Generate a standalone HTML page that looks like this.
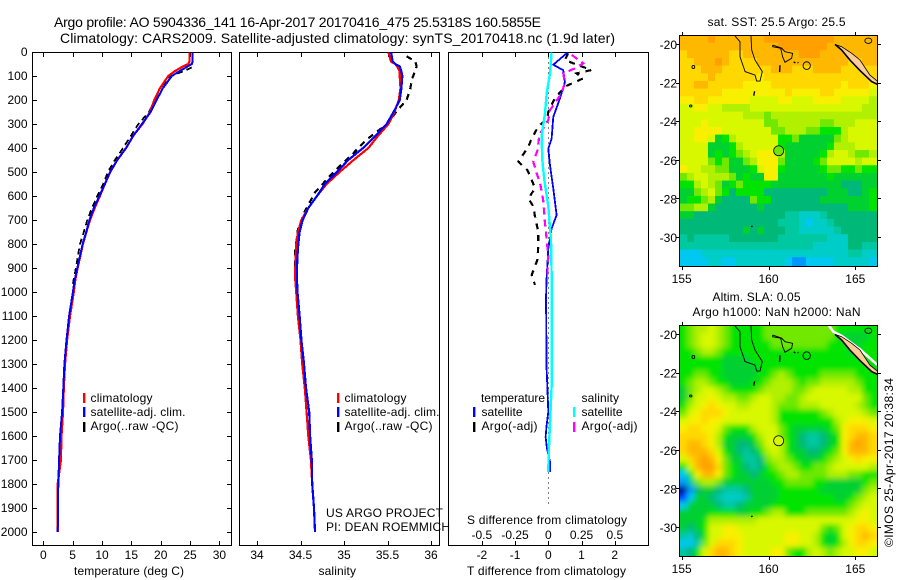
<!DOCTYPE html>
<html lang="en">
<head>
<meta charset="utf-8">
<title>Argo profile 5904336_141</title>
<style>
html,body{margin:0;padding:0;background:#fff;width:900px;height:580px;overflow:hidden}
svg{display:block}
text{font-family:"Liberation Sans",sans-serif;font-size:12px;fill:#000}
.title{font-size:14px}
.frame{fill:none;stroke:#000;stroke-width:1;shape-rendering:crispEdges}
.tick{stroke:#000;stroke-width:1;shape-rendering:crispEdges}
</style>
</head>
<body>
<svg id="chart" xmlns="http://www.w3.org/2000/svg" width="900" height="580" viewBox="0 0 900 580">
  <defs>
    <clipPath id="clip-sst"><rect x="679.5" y="35.5" width="198" height="231"/></clipPath>
    <clipPath id="clip-sla"><rect x="679.5" y="325.5" width="198" height="231"/></clipPath>
    <clipPath id="clip-p1"><rect x="32.5" y="52.5" width="199" height="493"/></clipPath>
    <clipPath id="clip-p2"><rect x="239.5" y="52.5" width="200" height="493"/></clipPath>
    <clipPath id="clip-p3"><rect x="448.5" y="52.5" width="200" height="493"/></clipPath>
    <filter id="soft" x="-5%" y="-5%" width="110%" height="110%"><feGaussianBlur stdDeviation="2.6"/></filter>
  </defs>

  <text class="title" x="54" y="27" textLength="487">Argo profile: AO 5904336_141 16-Apr-2017 20170416_475 25.5318S 160.5855E</text>
  <text class="title" x="60" y="43" textLength="555">Climatology: CARS2009. Satellite-adjusted climatology: synTS_20170418.nc (1.9d later)</text>

  <g id="map-sst"></g>
  <g id="map-sla"></g>
  <g id="panel-temp"></g>
  <g id="panel-sal"></g>
  <g id="panel-diff"></g>

  <text x="74" y="575" textLength="110">temperature (deg C)</text>
  <text x="318.5" y="575" textLength="37.5">salinity</text>
  <text x="467" y="575" textLength="159">T difference from climatology</text>
  <text x="467" y="524" textLength="160">S difference from climatology</text>

  <g>
    <rect x="83" y="393" width="2.4" height="10" fill="#ff0000"/>
    <rect x="83" y="407" width="2.4" height="10" fill="#0000ff"/>
    <rect x="83" y="422" width="2.4" height="10" fill="#000"/>
    <text x="90.5" y="402" textLength="62">climatology</text>
    <text x="90.5" y="416" textLength="95">satellite-adj. clim.</text>
    <text x="90.5" y="430" textLength="88">Argo(..raw -QC)</text>
  </g>
  <g>
    <rect x="337" y="393" width="2.4" height="10" fill="#ff0000"/>
    <rect x="337" y="407" width="2.4" height="10" fill="#0000ff"/>
    <rect x="337" y="422" width="2.4" height="10" fill="#000"/>
    <text x="344.5" y="402" textLength="62">climatology</text>
    <text x="344.5" y="416" textLength="95">satellite-adj. clim.</text>
    <text x="344.5" y="430" textLength="88">Argo(..raw -QC)</text>
  </g>
  <text x="326" y="517" textLength="117">US ARGO PROJECT</text>
  <text x="326" y="531" textLength="124">PI: DEAN ROEMMICH</text>

  <g>
    <text x="481" y="402" textLength="64">temperature</text>
    <rect x="473" y="407" width="2.4" height="10" fill="#0000ff"/>
    <rect x="473" y="422" width="2.4" height="10" fill="#000"/>
    <text x="481.5" y="416" textLength="41">satellite</text>
    <text x="481.5" y="430" textLength="56">Argo(-adj)</text>
    <text x="581.5" y="402" textLength="37.5">salinity</text>
    <rect x="573" y="407" width="2.4" height="10" fill="#00ffff"/>
    <rect x="573" y="422" width="2.4" height="10" fill="#ff00ff"/>
    <text x="581.5" y="416" textLength="41">satellite</text>
    <text x="581.5" y="430" textLength="56">Argo(-adj)</text>
  </g>

  <text x="707.5" y="26" textLength="138">sat. SST: 25.5 Argo: 25.5</text>
  <text x="712.5" y="301" textLength="88">Altim. SLA: 0.05</text>
  <text x="692.5" y="316" textLength="168">Argo h1000: NaN h2000: NaN</text>
  <text transform="translate(893,547) rotate(-90)" textLength="169">©IMOS 25-Apr-2017 20:38:34</text>
</svg>

<script>
// ---------- profile data (depth in metres) ----------
const climDepths = [0,40,50,60,80,100,150,200,250,300,350,400,450,500,550,600,650,700,750,800,850,900,950,1000,1100,1200,1300,1400,1500,1600,1700,1800,1900,2000];
const tempClim = [24.9,24.9,24.7,23.8,22.4,21.3,19.9,18.9,18.2,16.9,15.3,14.1,12.6,11.4,10.5,9.65,8.75,7.95,7.35,6.75,6.3,5.85,5.45,5.2,4.55,4.05,3.7,3.5,3.35,3.1,3.0,2.45,2.45,2.45];
const tempSat = [25.45,25.45,25.3,24.6,23.2,21.9,20.4,19.3,18.3,16.8,15.3,14.1,12.6,11.4,10.5,9.55,8.6,7.85,7.3,6.7,6.25,5.8,5.35,5.05,4.4,3.95,3.6,3.4,3.2,2.85,2.7,2.56,2.5,2.45];
const salClim = [35.51,35.54,35.59,35.61,35.64,35.64,35.65,35.63,35.58,35.51,35.39,35.28,35.11,34.95,34.8,34.69,34.59,34.51,34.47,34.45,34.445,34.44,34.44,34.45,34.47,34.5,34.52,34.55,34.57,34.59,34.62,34.635,34.655,34.667];
const salSat = [35.54,35.56,35.59,35.64,35.66,35.67,35.66,35.64,35.57,35.49,35.36,35.22,35.05,34.92,34.78,34.69,34.59,34.525,34.49,34.475,34.465,34.46,34.46,34.465,34.49,34.51,34.54,34.563,34.6,34.61,34.63,34.635,34.655,34.667];

const argoTempDepths = [64,80,100,150,200,250,300,350,400,450,500,550,600,650,700,750,800,850,900,970];
const argoTemp = [25.3,23.9,21.7,19.9,19.0,18.0,16.2,14.9,13.6,12.2,11.0,10.2,9.2,8.3,7.5,6.9,6.25,5.9,5.55,5.0];
const argoSalDepths = [18,39,60,115,157,199,254,296,365,421,504,585,664,740,824,935,970];
const argoSal = [35.72,35.82,35.835,35.78,35.76,35.72,35.59,35.51,35.26,35.11,34.87,34.667,34.55,34.47,34.44,34.44,34.45];

const diffSatSDepths = [0,89,172,255,352,450,533,644,783,922,1033,1200,1394,1547,1672,1750];
const diffSatS = [0.025,0.013,-0.012,-0.025,-0.05,-0.045,-0.03,0,0.02,0.025,0.025,0.025,0.025,0.013,0.003,0];
const diffSatTDepths = [0,53,76,125,194,270,361,403,472,569,680,736,819,944,1028,1150,1319,1389,1500,1556,1604,1653,1708,1750];
const diffSatT = [0.6,0.15,0.45,0.5,0.35,0.15,0.1,0,0.05,0.15,0.25,0.1,0,-0.05,-0.07,-0.06,-0.05,-0.03,0,-0.05,-0.08,-0.04,0.05,0.05];
const diffArgoSDepths = [12,47,68,89,130,172,242,283,346,408,457,506,547,617,714,783,853,922,950];
const diffArgoS = [0.176,0.263,0.2,0.113,0.125,0.1,0.013,0,-0.068,-0.08,-0.113,-0.087,-0.062,-0.038,-0.025,-0.012,0,-0.007,-0.007];
const diffArgoTDepths = [6,33,50,75,89,110,144,193,249,276,311,360,394,457,492,533,568,610,644,686,749,811,867,929,971];
const diffArgoT = [0.6,0.5,0.8,1.3,0.85,1.05,0.5,0.2,0,-0.03,-0.3,-0.5,-0.6,-0.9,-0.63,-0.5,-0.4,-0.6,-0.45,-0.4,-0.3,-0.3,-0.33,-0.5,-0.4];

// ---------- tick labels ----------
const depthTicks = [0,100,200,300,400,500,600,700,800,900,1000,1100,1200,1300,1400,1500,1600,1700,1800,1900,2000];
const tempTicks = [0,5,10,15,20,25,30];
const salTicks = [34,34.5,35,35.5,36];
const diffTTicks = [-2,-1,0,1,2];
const diffSTicks = [-0.5,-0.25,0,0.25,0.5];
const lonTicks = [155,160,165];
const latTicks = [-20,-22,-24,-26,-28,-30];

// ---------- map data: colour-level index per cell, north to south ----------
const mapColors = ['#000090','#0040ff','#0098ff','#00c8f0','#00ccc8','#00c8a0','#00b878','#00d030','#00e400','#70e800','#b0f000','#d8f800','#f8f000','#ffd800','#ffb800','#ffa000'];
const sstLevels = [
[14,14,14,14,15,14,14,14,14,14,14,14,15,15,15,15,15,15,15,15,15,15,14,14,14,14,14,14],
[14,14,14,14,14,14,14,14,14,14,14,14,14,14,15,15,15,15,15,15,15,14,14,14,14,14,14,14],
[13,14,14,14,14,14,14,13,13,14,14,14,14,14,14,14,14,15,15,15,14,14,14,14,14,14,14,14],
[13,13,14,14,14,15,14,13,13,13,13,14,14,14,14,14,14,14,14,14,14,14,14,14,13,13,14,14],
[13,13,13,14,14,14,13,13,13,13,13,13,13,14,14,14,13,13,13,14,14,14,14,13,13,13,13,13],
[13,13,13,13,14,13,13,13,13,13,13,12,13,13,13,13,13,13,13,13,13,13,13,13,13,13,13,13],
[13,13,14,14,13,13,13,13,13,12,12,12,12,13,13,13,13,13,13,13,13,13,13,12,13,13,13,12],
[13,13,13,13,13,13,12,12,12,12,12,12,12,12,12,13,12,12,12,12,13,13,12,12,12,12,12,11],
[12,12,13,13,12,12,12,12,12,12,11,11,11,11,12,12,11,11,11,12,12,12,12,11,11,11,11,10],
[11,11,12,12,11,11,10,10,10,10,11,11,11,11,11,11,11,11,11,11,11,11,11,11,11,11,10,10],
[11,11,11,11,11,11,11,11,11,10,10,10,9,10,10,10,10,10,10,10,10,10,10,10,10,10,10,10],
[11,11,11,12,11,11,11,11,11,11,11,11,9,9,10,10,10,10,10,10,9,9,10,10,10,11,11,11],
[11,11,12,12,12,12,11,11,11,11,11,11,11,9,9,10,10,10,9,9,8,8,8,10,11,11,11,11],
[11,11,12,12,11,7,8,10,11,11,11,11,11,11,8,8,9,7,7,7,7,7,9,10,11,11,11,11],
[11,11,11,11,7,7,7,8,10,11,11,11,11,11,8,7,7,7,7,7,7,8,10,10,10,11,11,11],
[11,11,11,11,7,8,7,8,9,10,11,12,12,12,10,7,7,7,7,7,8,10,11,11,10,9,9,10],
[11,11,11,11,9,8,9,7,7,9,10,12,12,12,9,7,7,7,7,8,9,11,11,11,11,10,11,11],
[12,11,11,10,10,9,9,7,7,7,8,11,12,12,8,7,7,7,7,7,8,9,9,8,8,9,8,8],
[9,10,11,11,10,10,10,9,7,8,7,7,12,12,7,7,7,7,7,7,7,8,7,7,7,7,7,7],
[8,8,10,11,10,9,7,8,9,8,8,8,8,7,7,7,7,7,7,7,7,7,7,6,6,6,7,7],
[7,7,9,10,11,9,8,6,8,8,8,8,6,6,6,6,6,6,6,6,6,7,7,7,6,6,7,8],
[7,8,8,9,10,7,6,6,6,6,9,8,8,6,6,6,6,6,6,6,7,7,7,7,7,7,7,8],
[9,9,10,10,7,6,6,6,6,6,6,7,6,6,6,6,6,6,6,6,6,6,6,6,7,7,7,8],
[7,7,6,6,6,6,6,6,6,6,6,6,6,6,6,5,5,4,4,4,5,6,6,6,6,6,6,6],
[6,6,6,6,6,6,6,6,6,6,6,6,6,6,5,5,5,4,3,4,4,5,6,6,6,6,6,6],
[6,6,6,6,6,6,6,6,6,7,6,7,6,6,6,5,5,4,4,4,4,4,5,6,6,6,6,6],
[5,6,5,5,5,5,5,6,6,6,6,6,6,6,5,5,5,5,5,5,5,4,4,4,6,6,6,6],
[5,5,5,5,5,5,5,5,5,5,5,5,5,5,5,5,5,5,5,4,4,4,4,4,6,6,5,5],
[3,3,3,4,4,4,4,4,4,4,4,4,4,4,4,4,4,4,4,4,4,4,4,4,5,5,4,4],
[3,3,3,3,4,4,3,3,4,4,4,4,4,4,4,3,2,2,3,3,3,3,4,4,4,4,4,3]
];
const slaLevels = [
[8,9,10,10,11,10,9,8,8,8,8,8,9,9,9,9,9,9,9,9,9,9,8,8,8,8,8,8],
[8,9,10,11,11,10,9,8,8,8,8,8,9,9,9,9,9,9,9,9,9,9,8,7,7,7,7,8],
[8,9,10,11,11,10,9,8,8,8,8,8,8,9,9,9,9,9,9,9,9,8,8,8,7,7,8,8],
[8,8,9,10,10,9,8,8,8,8,8,8,8,8,8,8,8,8,8,8,8,8,8,8,7,8,8,8],
[8,8,8,8,8,8,7,7,7,7,8,8,8,8,8,8,8,8,8,8,8,8,8,8,8,8,8,8],
[8,8,8,8,8,8,7,7,7,7,7,8,8,8,8,8,8,8,8,8,8,8,8,8,8,8,8,8],
[8,8,9,9,8,8,7,7,7,7,7,8,8,9,10,9,8,8,8,8,9,9,9,9,9,8,8,8],
[8,9,10,10,9,8,8,7,7,7,8,8,9,10,10,10,9,8,9,9,10,10,10,10,10,9,8,8],
[7,9,10,11,11,10,9,8,8,8,8,9,10,10,10,10,9,9,10,11,11,11,11,11,10,10,8,8],
[7,9,11,11,12,11,10,10,9,9,10,11,11,10,10,9,9,10,11,11,11,11,11,11,11,11,9,8],
[8,10,11,12,13,12,11,11,10,10,11,11,11,10,9,9,9,10,10,10,11,11,11,11,11,10,9,8],
[9,11,12,13,13,13,12,11,11,11,11,11,11,10,8,8,8,8,8,8,9,10,11,11,11,11,10,9],
[11,12,12,13,12,12,11,11,11,11,11,11,11,10,8,8,8,8,8,8,8,8,10,11,12,12,12,11],
[12,13,13,12,12,11,9,8,8,8,10,11,11,11,9,8,7,7,7,7,7,8,9,12,13,13,13,12],
[13,13,13,13,12,10,8,7,7,7,8,10,11,11,9,8,7,6,5,5,6,7,8,12,13,14,14,13],
[13,14,14,13,12,10,7,7,6,6,7,9,11,11,10,8,7,6,5,5,6,7,8,12,14,15,14,13],
[13,14,14,14,13,11,8,7,6,5,6,8,10,11,10,8,7,7,6,6,7,8,9,12,14,14,14,13],
[11,13,14,15,14,12,9,7,7,5,5,6,9,10,10,9,8,7,7,7,8,9,10,11,12,13,12,12],
[8,11,14,15,15,13,9,8,7,6,5,6,8,9,10,10,9,8,8,9,9,10,11,11,11,11,11,10],
[3,8,12,14,14,12,9,8,7,7,6,7,8,8,9,10,10,9,9,9,9,10,10,10,9,9,8,8],
[2,5,9,10,10,9,7,7,7,7,7,7,7,8,8,9,9,9,9,8,8,7,7,7,7,7,8,9],
[0,2,6,7,7,6,5,5,5,6,7,7,7,7,8,8,8,8,8,8,7,7,7,7,7,7,9,10],
[1,3,7,7,6,5,4,4,4,5,7,7,7,7,8,8,8,8,8,8,8,8,7,7,8,9,10,11],
[3,7,7,7,7,6,5,5,6,7,7,7,7,8,8,8,8,8,8,8,8,8,8,8,9,10,11,11],
[7,7,7,7,8,8,8,8,7,7,8,8,9,10,10,8,8,8,9,9,9,9,9,9,10,11,12,11],
[7,7,7,8,10,10,10,10,10,10,10,11,11,11,11,11,11,11,11,11,11,11,11,11,11,12,12,11],
[7,6,7,8,11,11,12,12,11,11,11,11,11,11,11,11,11,11,11,11,9,8,9,11,12,13,13,12],
[5,4,6,8,11,11,12,12,12,11,11,11,11,11,11,12,12,11,11,10,8,7,8,11,12,13,14,13],
[3,3,5,9,11,13,13,13,12,11,11,11,11,11,11,12,12,11,11,10,8,7,8,10,12,13,13,12],
[5,6,8,11,13,14,14,13,12,11,11,11,11,12,12,9,8,8,10,11,10,9,10,11,11,12,12,11]
];
const gridLon0 = 154.904, gridLonStep = 0.403, gridLat0 = -19.534, gridLatStep = 0.397;

// ---------- coast outlines (lon, lat) ----------
const reefWest = [[158.07,-19.59],[158.36,-19.88],[158.36,-20.66],[158.65,-21.43],[159.22,-21.61],[159.32,-21.92],[159.51,-21.92],[159.64,-21.43],[159.22,-20.83],[159.03,-20.31],[158.99,-19.59]];
const reefEast = [[160.24,-20.05],[160.76,-20.22],[160.95,-20.4],[161.39,-20.48],[161.33,-20.74],[160.95,-20.95],[160.81,-20.66],[160.7,-20.22],[160.24,-20.14],[160.24,-20.05]];
const newCaledonia = [[163.83,-20.02],[164.21,-20.14],[164.79,-20.48],[165.27,-20.83],[165.84,-21.61],[166.27,-21.92],[166.27,-22.09],[165.94,-21.95],[165.27,-21.38],[164.69,-20.83],[164.21,-20.31],[163.83,-20.02]];
const newCaledoniaEdge = [[163.83,-20.02],[164.21,-20.31],[164.69,-20.83],[165.27,-21.38],[165.94,-21.95],[166.27,-22.09]];
const swathEdge = [[163.45,-19.53],[163.73,-19.88],[164.21,-20.1],[165.27,-20.8],[166.27,-21.6]];
const smallReefs = [[162.2,-21.12,0.21,0.2],[155.67,-21.19,0.08,0.08],[155.52,-23.21,0.07,0.05],[165.75,-19.83,0.2,0.14]];
const islets = [[160.66,-21.1,160.64,-21.45],[159.2,-22.45,159.15,-22.68],[161.45,-20.93,161.55,-20.98],[161.68,-20.95,161.72,-20.98],[159.0,-29.47,159.08,-29.43]];
const argoPosition = [160.5855,-25.5318];

// ---------- scales ----------
const svg = document.getElementById('chart');
const NS = 'http://www.w3.org/2000/svg';
const yDepth = d => 52 + d * 0.24;
const xTemp = t => 43.3 + t * 5.87;
const xSal = s => 257 + (s - 34) * 87;
const xDiffT = t => 548.3 + t * 33.2;
const xDiffS = s => 548.3 + s * 133;
const xLon = lon => 681.7 + (lon - 155) * 17.36;
const yLatSst = lat => 44 + (-20 - lat) * 19.3;
const yLatSla = lat => 334 + (-20 - lat) * 19.3;

function make(tag, parent, props) {
  const el = document.createElementNS(NS, tag);
  for (const k in props) el.setAttribute(k, props[k]);
  parent.appendChild(el);
  return el;
}
function fmt(v) { return String(v); }

function drawSeries(parent, vals, depths, xFn, color, width, dash, name) {
  const pts = depths.map((d, i) => xFn(vals[i]).toFixed(1) + ',' + yDepth(d).toFixed(1)).join(' ');
  const el = make('polyline', parent, {points: pts, fill: 'none', stroke: color, 'stroke-width': width});
  if (dash) el.setAttribute('stroke-dasharray', dash);
  el.setAttribute('shape-rendering', 'crispEdges');
  
  
}
function drawXAxis(parent, ticks, xFn, labelY, top, name) {
  ticks.forEach(v => {
    const x = Math.round(xFn(v)) + 0.5;
    const b = make('line', parent, {class: 'tick', x1: x, x2: x, y1: 545.5, y2: 541});
    
    
    if (top) {
      const t = make('line', parent, {class: 'tick', x1: x, x2: x, y1: 52.5, y2: 57});
      
      
    }
    const l = make('text', parent, {x: xFn(v), y: labelY, 'text-anchor': 'middle'});
    l.textContent = fmt(v);
    
    
  });
}
function drawFrame(parent, x, y, w, h, name) {
  const f = make('rect', parent, {class: 'frame', x: x, y: y, width: w, height: h});
  
  
}

// ---------- temperature panel ----------
const p1 = document.getElementById('panel-temp');
drawFrame(p1, 32.5, 52.5, 199, 493, 'temperature-plot-frame');
depthTicks.forEach(d => {
  const y = Math.round(yDepth(d)) + 0.5;
  const a = make('line', p1, {class: 'tick', x1: 32.5, x2: 37, y1: y, y2: y});
  
  
  const b = make('line', p1, {class: 'tick', x1: 231.5, x2: 227, y1: y, y2: y});
  
  
  const l = make('text', p1, {x: 27.5, y: yDepth(d) + 4, 'text-anchor': 'end'});
  l.textContent = fmt(d);
  
  
});
drawXAxis(p1, tempTicks, xTemp, 559, true, 'temperature-axis');
const g1 = make('g', p1, {'clip-path': 'url(#clip-p1)'});
drawSeries(g1, argoTemp, argoTempDepths, xTemp, '#000', 1.8, '6 4', 'temperature-argo-line');
drawSeries(g1, tempClim, climDepths, xTemp, '#ff0000', 2.2, null, 'temperature-climatology-line');
drawSeries(g1, tempSat, climDepths, xTemp, '#0000ff', 2, null, 'temperature-satellite-line');

// ---------- salinity panel ----------
const p2 = document.getElementById('panel-sal');
drawFrame(p2, 239.5, 52.5, 200, 493, 'salinity-plot-frame');
drawXAxis(p2, salTicks, xSal, 559, true, 'salinity-axis');
const g2 = make('g', p2, {'clip-path': 'url(#clip-p2)'});
drawSeries(g2, argoSal, argoSalDepths, xSal, '#000', 2.2, '6 5', 'salinity-argo-line');
drawSeries(g2, salClim, climDepths, xSal, '#ff0000', 2.2, null, 'salinity-climatology-line');
drawSeries(g2, salSat, climDepths, xSal, '#0000ff', 2.2, null, 'salinity-satellite-line');

// ---------- difference panel ----------
const p3 = document.getElementById('panel-diff');
drawFrame(p3, 448.5, 52.5, 200, 493, 'difference-plot-frame');
drawXAxis(p3, diffTTicks, xDiffT, 559, true, 't-difference-axis');
diffSTicks.forEach(v => {
  const l = make('text', p3, {x: xDiffS(v), y: 539, 'text-anchor': 'middle'});
  l.textContent = fmt(v);
  
  
});
const zero = make('line', p3, {x1: 548.5, x2: 548.5, y1: 52.5, y2: 505, stroke: '#000', 'stroke-width': 1, 'stroke-dasharray': '1 4'});


const g3 = make('g', p3, {'clip-path': 'url(#clip-p3)'});
drawSeries(g3, diffArgoT, diffArgoTDepths, xDiffT, '#000', 2.2, '6 6', 't-difference-argo-line');
drawSeries(g3, diffSatT, diffSatTDepths, xDiffT, '#0000ff', 1.8, null, 't-difference-satellite-line');
drawSeries(g3, diffArgoS, diffArgoSDepths, xDiffS, '#ff00ff', 2.2, '7 5', 's-difference-argo-line');
drawSeries(g3, diffSatS, diffSatSDepths, xDiffS, '#00ffff', 2.4, null, 's-difference-satellite-line');

// ---------- maps ----------
function drawMap(root, levels, yLat, clipId, top, bottom, soft, prefix, circleFill) {
  const clip = make('g', root, {'clip-path': 'url(#' + clipId + ')'});
  const cells = make('g', clip, soft ? {filter: 'url(#soft)'} : {});
  const nRows = levels.length;
  levels.forEach((row, j) => {
    row.forEach((lev, i) => {
      let x0 = xLon(gridLon0 + i * gridLonStep);
      let x1 = xLon(gridLon0 + (i + 1) * gridLonStep);
      let y0 = yLat(gridLat0 - j * gridLatStep);
      let y1 = yLat(gridLat0 - (j + 1) * gridLatStep);
      if (i === 0) x0 -= 15;
      if (i === row.length - 1) x1 += 15;
      if (j === 0) y0 -= 15;
      if (j === nRows - 1) y1 += 15;
      const r = make('rect', cells, {x: x0.toFixed(2), y: y0.toFixed(2), width: (x1 - x0 + 0.4).toFixed(2), height: (y1 - y0 + 0.4).toFixed(2), fill: mapColors[lev]});
      
      
    });
  });
  const path = pts => pts.map(p => xLon(p[0]).toFixed(1) + ',' + yLat(p[1]).toFixed(1)).join(' ');
  if (soft) {
    const w = make('polyline', clip, {points: path(swathEdge), fill: 'none', stroke: '#fff', 'stroke-width': 2.6});
    
    
  }
  const land = make('polygon', clip, {points: path(newCaledonia), fill: '#ffcc99', stroke: '#000', 'stroke-width': 0.8});
  
  
  const edge = make('polyline', clip, {points: path(newCaledoniaEdge), fill: 'none', stroke: '#000', 'stroke-width': 1.6});
  
  
  const c1 = make('polyline', clip, {points: path(reefWest), fill: 'none', stroke: '#000', 'stroke-width': 0.9});
  
  
  const c2 = make('polyline', clip, {points: path(reefEast), fill: 'none', stroke: '#000', 'stroke-width': 0.9});
  
  
  smallReefs.forEach(s => {
    const e = make('ellipse', clip, {cx: xLon(s[0]), cy: yLat(s[1]), rx: s[2] * 17.36, ry: s[3] * 19.3, fill: 'none', stroke: '#000', 'stroke-width': 0.9});
    
    
  });
  islets.forEach(s => {
    const e = make('line', clip, {x1: xLon(s[0]), y1: yLat(s[1]), x2: xLon(s[2]), y2: yLat(s[3]), stroke: '#000', 'stroke-width': 1.4});
    
    
  });
  const marker = make('circle', clip, {cx: xLon(argoPosition[0]), cy: yLat(argoPosition[1]), r: 5, fill: circleFill, stroke: '#000', 'stroke-width': 0.8});
  
  

  drawFrame(root, 679.5, top + 0.5, 198, bottom - top, prefix + '-map-frame');
  lonTicks.forEach(lon => {
    const x = Math.round(xLon(lon)) + 0.5;
    const a = make('line', root, {class: 'tick', x1: x, x2: x, y1: top, y2: top - 3});
    
    
    const b = make('line', root, {class: 'tick', x1: x, x2: x, y1: bottom + 1, y2: bottom + 4});
    
    
    const l = make('text', root, {x: xLon(lon), y: bottom + 17, 'text-anchor': 'middle'});
    l.textContent = fmt(lon);
    
    
  });
  latTicks.forEach(lat => {
    const y = Math.round(yLat(lat)) + 0.5;
    const a = make('line', root, {class: 'tick', x1: 679, x2: 676, y1: y, y2: y});
    
    
    const b = make('line', root, {class: 'tick', x1: 878, x2: 881, y1: y, y2: y});
    
    
    const l = make('text', root, {x: 677, y: yLat(lat) + 5, 'text-anchor': 'end'});
    l.textContent = fmt(lat);
    
    
  });
}
drawMap(document.getElementById('map-sst'), sstLevels, yLatSst, 'clip-sst', 35, 266, false, 'sst', mapColors[9]);
drawMap(document.getElementById('map-sla'), slaLevels, yLatSla, 'clip-sla', 325, 556, true, 'sla', mapColors[11]);
</script>
</body>
</html>
